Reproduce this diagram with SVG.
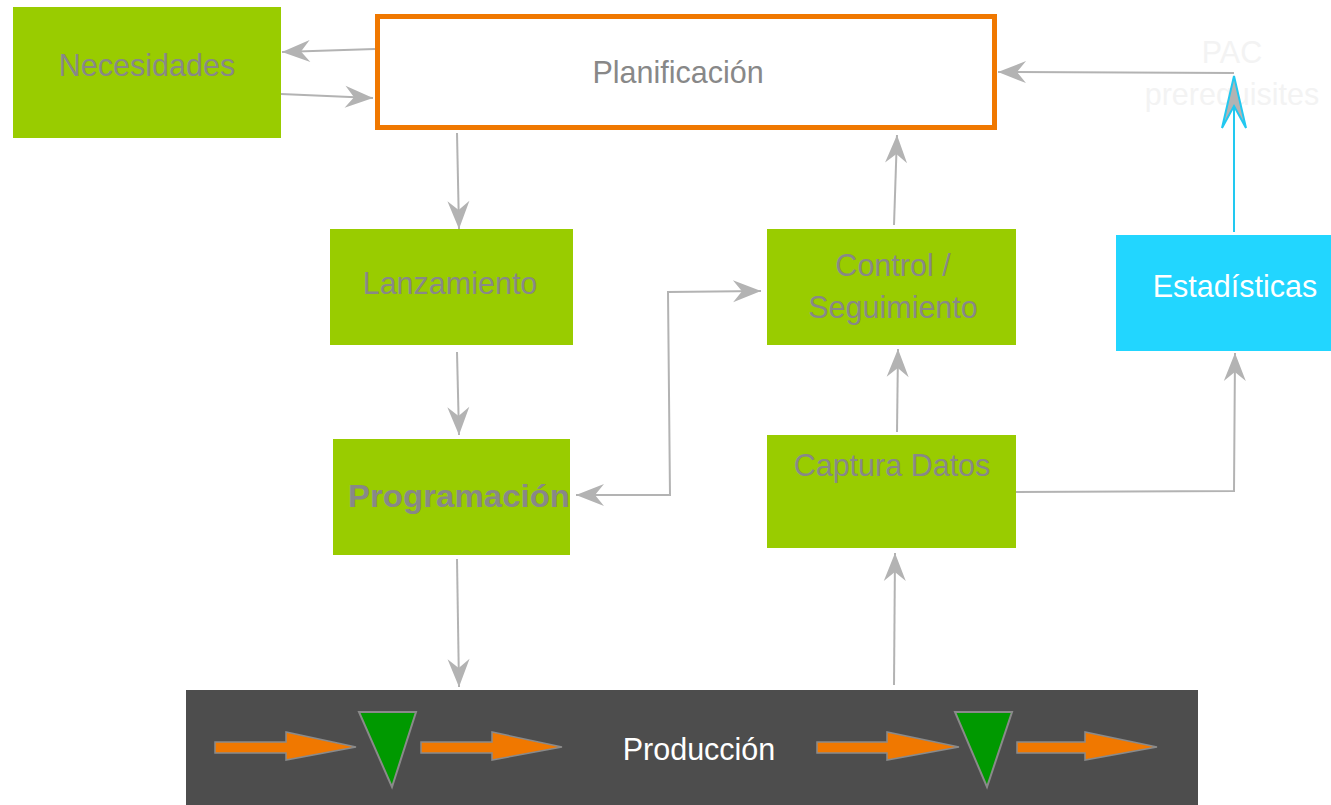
<svg xmlns="http://www.w3.org/2000/svg" width="1331" height="805" viewBox="0 0 1331 805">
<style>
.g{fill:#99cc00}
.t{font-family:"Liberation Sans",Arial,sans-serif;font-size:30.5px;fill:#888888;text-anchor:middle}
.w{fill:#ffffff}
.c{fill:none;stroke:#b3b3b3;stroke-width:2}
.oa{fill:#f07800;stroke:#8a8a8a;stroke-width:1.5}
.tri{fill:#009900;stroke:#8a8a8a;stroke-width:2}
</style>
<defs>
<marker id="ah" markerUnits="userSpaceOnUse" markerWidth="32" markerHeight="26" refX="29" refY="12" orient="auto">
<path d="M1,1 L29,12 L1,23 L10,12 Z" fill="#b3b3b3"/>
</marker>
<marker id="ahs" markerUnits="userSpaceOnUse" markerWidth="32" markerHeight="26" refX="1" refY="12" orient="auto">
<path d="M29,1 L1,12 L29,23 L20,12 Z" fill="#b3b3b3"/>
</marker>
</defs>
<rect width="1331" height="805" fill="#ffffff"/>
<g id="pac"><text class="t" x="1232" y="63" style="fill:#f3f3f3">PAC</text><text class="t" x="1232" y="105" style="fill:#f3f3f3">prerequisites</text></g>
<g id="necesidades"><rect class="g" x="13" y="7" width="268" height="131"/><text class="t" x="147" y="76">Necesidades</text></g>
<g id="planificacion"><rect x="377.5" y="16.5" width="617" height="111" fill="#ffffff" stroke="#f07800" stroke-width="5"/><text class="t" x="678" y="83">Planificación</text></g>
<g id="lanzamiento"><rect class="g" x="330" y="229" width="243" height="116"/><text class="t" x="450" y="294">Lanzamiento</text></g>
<g id="programacion"><rect class="g" x="333" y="439" width="237" height="116"/><text class="t" x="348" y="507" textLength="222" lengthAdjust="spacingAndGlyphs" style="font-weight:bold;text-anchor:start">Programación</text></g>
<g id="control"><rect class="g" x="767" y="229" width="249" height="116"/><text class="t" x="893" y="276">Control /</text><text class="t" x="893" y="318">Seguimiento</text></g>
<g id="captura"><rect class="g" x="767" y="435" width="249" height="113"/><text class="t" x="892" y="476">Captura Datos</text></g>
<g id="estadisticas"><rect x="1116" y="235" width="215" height="116" fill="#22d6ff"/><text class="t w" x="1235" y="297">Estadísticas</text></g>
<g id="produccion"><rect x="186" y="690" width="1012" height="115" fill="#4d4d4d"/>
<text class="t w" x="699" y="760">Producción</text>
<path class="oa" d="M215,742 L286,742 L286,732 L356,747 L286,760 L286,753 L215,753 Z"/>
<path class="tri" d="M359,712 L416,712 L392,787 Z"/>
<path class="oa" d="M421,742 L492,742 L492,732 L562,747 L492,760 L492,753 L421,753 Z"/>
<path class="oa" d="M817,742 L887,742 L887,732 L959,747 L887,760 L887,753 L817,753 Z"/>
<path class="tri" d="M955,712 L1012,712 L987,787 Z"/>
<path class="oa" d="M1017,742 L1085,742 L1085,732 L1157,747 L1085,760 L1085,753 L1017,753 Z"/>
</g>
<g id="connectors">
<path class="c" d="M375,49 L282,52" marker-end="url(#ah)"/>
<path class="c" d="M281,94 L373,98" marker-end="url(#ah)"/>
<path class="c" d="M457,133 L459,229" marker-end="url(#ah)"/>
<path class="c" d="M457,352 L459,435" marker-end="url(#ah)"/>
<path class="c" d="M457,559 L459,687" marker-end="url(#ah)"/>
<path class="c" d="M894,685 L895,553" marker-end="url(#ah)"/>
<path class="c" d="M897,432 L898,349" marker-end="url(#ah)"/>
<path class="c" d="M894,225 L897,135" marker-end="url(#ah)"/>
<path class="c" d="M1016,492 L1234,491 L1235,353" marker-end="url(#ah)"/>
<path class="c" d="M576,495 L670,495 L668,292 L761,291" marker-start="url(#ahs)" marker-end="url(#ah)"/>
<path class="c" d="M1234,73 L998,72" marker-end="url(#ah)"/>
<path d="M1234,232 L1234,80" fill="none" stroke="#22c8f0" stroke-width="2"/>
<path d="M1234,76 L1246,128 L1234,106 L1222,128 Z" fill="#b3b3b3" stroke="#22c8f0" stroke-width="2" stroke-linejoin="miter"/>
</g>
</svg>
